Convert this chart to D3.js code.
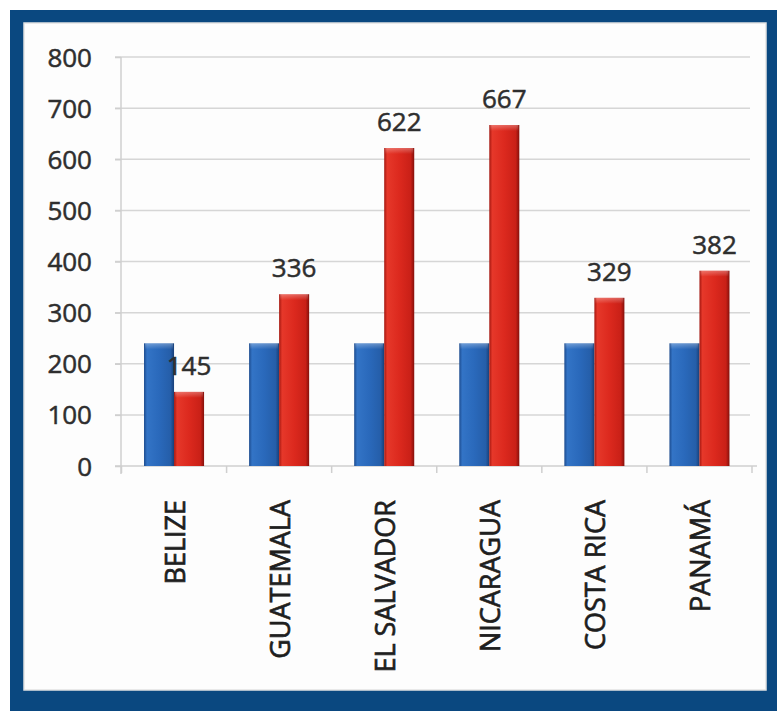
<!DOCTYPE html>
<html>
<head>
<meta charset="utf-8">
<script src="https://cdn.jsdelivr.net/npm/d3@7"></script>
<style>
  html, body { margin: 0; padding: 0; background: #ffffff; }
  svg { display: block; }
</style>
</head>
<body>
<script>
const categories = ["BELIZE", "GUATEMALA", "EL SALVADOR", "NICARAGUA", "COSTA RICA", "PANAMÁ"];
const seriesNames = ["blue", "red"];
const blueValues = [240, 240, 240, 240, 240, 240];
const redValues = [145, 336, 622, 667, 329, 382];
const yTicks = [0, 100, 200, 300, 400, 500, 600, 700, 800];

const W = 777, H = 711;
const svg = d3.select("body").append("svg").attr("width", W).attr("height", H);

// gradients
const defs = svg.append("defs");
function grad(id, stops) {
  const g = defs.append("linearGradient").attr("id", id).attr("x1", 0).attr("x2", 1).attr("y1", 0).attr("y2", 0);
  stops.forEach(s => g.append("stop").attr("offset", s[0]).attr("stop-color", s[1]));
}
grad("gBlue", [[0, "#1c4b8e"], [0.1, "#3374c6"], [0.5, "#2a69bb"], [0.88, "#255ea9"], [1, "#183f78"]]);
grad("gRed", [[0, "#a3160f"], [0.1, "#e6382a"], [0.5, "#dc291e"], [0.88, "#c92017"], [1, "#85100b"]]);
const capB = defs.append("linearGradient").attr("id", "capB").attr("x1", 0).attr("x2", 0).attr("y1", 0).attr("y2", 1);
capB.append("stop").attr("offset", 0).attr("stop-color", "#ffffff").attr("stop-opacity", 0.3);
capB.append("stop").attr("offset", 1).attr("stop-color", "#ffffff").attr("stop-opacity", 0);

// frame
svg.append("rect").attr("x", 10).attr("y", 10).attr("width", W - 10).attr("height", H - 10).attr("fill", "#0a4880");
svg.append("rect").attr("x", 24).attr("y", 23).attr("width", 742).attr("height", 667)
  .attr("fill", "#fdfdfd").attr("stroke", "#e2e2e2").attr("stroke-width", 1.5);

// scales
const y = d3.scaleLinear().domain([0, 800]).range([466, 57]);
const x = d3.scaleBand().domain(categories).range([121.5, 752]).padding(0);
const x1 = d3.scaleBand().domain(seriesNames).range([0, x.bandwidth()]).paddingInner(0).paddingOuter(0.75);

// gridlines
svg.append("g").selectAll("line").data(yTicks.filter(t => t > 0)).join("line")
  .attr("x1", 115).attr("x2", 750)
  .attr("y1", d => y(d)).attr("y2", d => y(d))
  .attr("stroke", "#d6d6d6").attr("stroke-width", 1.5);

// y axis
const yAxis = d3.axisLeft(y).tickValues(yTicks).tickSize(6).tickPadding(0).tickFormat(d3.format("d"));
const gy = svg.append("g").attr("transform", "translate(121,0)").call(yAxis);
gy.select(".domain").attr("stroke", "#cfcfcf").attr("stroke-width", 1.5).attr("d", "M0,57V474");
gy.selectAll(".tick line").attr("stroke", "#cfcfcf").attr("stroke-width", 1.5);
gy.selectAll(".tick text").attr("x", -29).attr("dy", "0.35em")
  .attr("font-family", "'Open Sans', sans-serif").attr("font-size", 26).attr("fill", "#2e2e2e")
  .attr("stroke", "#2e2e2e").attr("stroke-width", 0.5);

// x axis line and ticks at category boundaries
const xb = categories.map(c => x(c)).concat([x(categories[categories.length - 1]) + x.bandwidth()]);
svg.append("line").attr("x1", 115).attr("x2", 757).attr("y1", y(0)).attr("y2", y(0))
  .attr("stroke", "#cfcfcf").attr("stroke-width", 1.5);
svg.append("g").selectAll("line").data(xb).join("line")
  .attr("x1", d => d).attr("x2", d => d).attr("y1", y(0)).attr("y2", y(0) + 7)
  .attr("stroke", "#cfcfcf").attr("stroke-width", 1.5);

// bars
const data = categories.map((c, i) => ({ cat: c, blue: blueValues[i], red: redValues[i] }));
const groups = svg.append("g").selectAll("g").data(data).join("g")
  .attr("transform", d => `translate(${x(d.cat)},0)`);

groups.selectAll("rect.bar").data(d => seriesNames.map(s => ({ s, v: d[s] }))).join("rect")
  .attr("class", "bar")
  .attr("x", d => x1(d.s)).attr("width", x1.bandwidth())
  .attr("y", d => y(d.v)).attr("height", d => y(0) - y(d.v))
  .attr("fill", d => d.s === "blue" ? "url(#gBlue)" : "url(#gRed)");
groups.selectAll("rect.cap").data(d => seriesNames.map(s => ({ s, v: d[s] }))).join("rect")
  .attr("class", "cap")
  .attr("x", d => x1(d.s) + 1).attr("width", x1.bandwidth() - 2)
  .attr("y", d => y(d.v)).attr("height", 6)
  .attr("fill", "url(#capB)");

// data labels on red bars
groups.append("text")
  .attr("x", x1("red") + x1.bandwidth() / 2)
  .attr("y", d => y(d.red) - 17)
  .attr("text-anchor", "middle")
  .attr("font-family", "'Open Sans', sans-serif").attr("font-size", 26).attr("fill", "#2e2e2e")
  .attr("stroke", "#2e2e2e").attr("stroke-width", 0.5)
  .text(d => d.red);

// x labels
svg.append("g").selectAll("text").data(categories).join("text")
  .attr("transform", c => `translate(${x(c) + x.bandwidth() / 2 + 1},500) rotate(-90)`)
  .attr("text-anchor", "end").attr("dy", "0.36em")
  .attr("font-family", "'Open Sans', sans-serif").attr("font-size", 27).attr("fill", "#1e1e1e")
  .attr("stroke", "#1e1e1e").attr("stroke-width", 0.7)
  .text(c => c);
</script>
</body>
</html>
